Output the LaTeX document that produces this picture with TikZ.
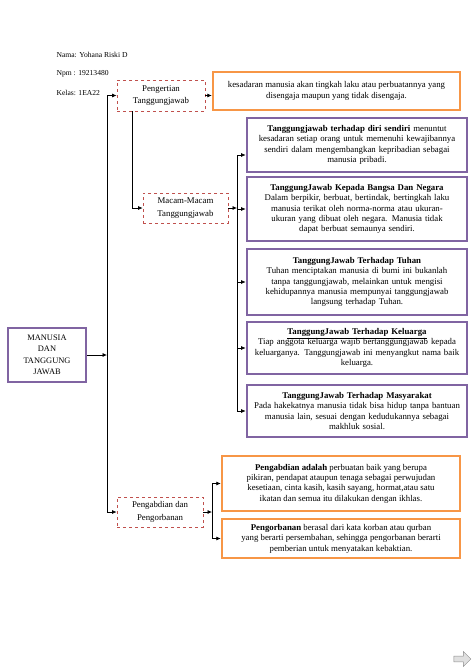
\documentclass[tikz,border=0pt]{standalone}
\usepackage{fontspec}
\setmainfont{Liberation Serif}
\usetikzlibrary{positioning,arrows.meta,shapes.arrows}

\definecolor{ungu}{RGB}{128,100,162}
\definecolor{oranye}{RGB}{247,150,70}
\definecolor{merah}{RGB}{192,80,77}

\begin{document}
\begin{tikzpicture}[x=1pt,y=-1pt,
    every node/.style={font=\fontsize{8.8}{10.4}\selectfont},
    identitas/.style={anchor=west,font=\fontsize{7.6}{9}\selectfont},
    topik/.style={draw=merah,dashed,line width=0.7pt,fill=white,align=center,
                  font=\fontsize{8.8}{12.5}\selectfont},
    isi/.style={draw=ungu,line width=2pt,fill=white,align=center,text width=214},
    jelas/.style={draw=oranye,line width=2.5pt,fill=white,align=center},
    panah/.style={-{Latex[length=4.5pt,width=4pt]},line width=0.7pt},
    garis/.style={line width=0.7pt}]
    \useasboundingbox (0,0) rectangle (476,669);

    % identitas
    \node[identitas] (nama)  at (53,55) {Nama: Yohana Riski D};
    \node[identitas] (npm)   at (53,74) {Npm : 19213480};
    \node[identitas] (kelas) at (53,93) {Kelas: 1EA22};

    % pokok bahasan
    \node[draw=ungu,line width=2pt,minimum width=78,minimum height=54,align=center,
          font=\fontsize{8.4}{11.5}\selectfont] (manusia) at (47,355)
          {MANUSIA\\DAN\\TANGGUNG\\JAWAB};

    \node[topik,minimum width=88,minimum height=31] (pengertian) at (161,95.5)
          {Pengertian\\Tanggungjawab};
    \node[topik,minimum width=85,minimum height=30] (macam) at (185.5,208)
          {Macam-Macam\\Tanggungjawab};
    \node[topik,minimum width=86,minimum height=30] (pengabdian) at (160,512)
          {Pengabdian dan\\Pengorbanan};

    \node[jelas,minimum width=247,minimum height=38] (arti) at (336.5,91)
          {kesadaran manusia akan tingkah laku atau perbuatannya yang\\
           disengaja maupun yang tidak disengaja.};

    % macam-macam tanggungjawab
    \node[isi,minimum height=54] (tj1) at (357,145)
          {\textbf{Tanggungjawab terhadap diri sendiri} menuntut\\
           kesadaran setiap orang untuk memenuhi kewajibannya\\
           sendiri dalam mengembangkan kepribadian sebagai\\
           manusia pribadi.};
    \node[isi,minimum height=64] (tj2) at (357,209)
          {\textbf{TanggungJawab Kepada Bangsa Dan Negara}\\
           Dalam berpikir, berbuat, bertindak, bertingkah laku\\
           manusia terikat oleh norma-norma atau ukuran-\\
           ukuran yang dibuat oleh negara. Manusia tidak\\
           dapat berbuat semaunya sendiri.};
    \node[isi,minimum height=66] (tj3) at (357,282)
          {\textbf{TanggungJawab Terhadap Tuhan}\\
           Tuhan menciptakan manusia di bumi ini bukanlah\\
           tanpa tanggungjawab, melainkan untuk mengisi\\
           kehidupannya manusia mempunyai tanggungjawab\\
           langsung terhadap Tuhan.};
    \node[isi,minimum height=52] (tj4) at (357,348)
          {\underline{\textbf{TanggungJawab Terhadap Keluarga}}\\
           Tiap anggota keluarga wajib bertanggungjawab kepada\\
           keluarganya. Tanggungjawab ini menyangkut nama baik\\
           keluarga.};
    \node[isi,minimum height=52] (tj5) at (357,411)
          {\textbf{TanggungJawab Terhadap Masyarakat}\\
           Pada hakekatnya manusia tidak bisa hidup tanpa bantuan\\
           manusia lain, sesuai dengan kedudukannya sebagai\\
           makhluk sosial.};

    % pengabdian dan pengorbanan
    \node[jelas,minimum width=238,minimum height=55] (abdi) at (341,483.5)
          {\textbf{Pengabdian adalah} perbuatan baik yang berupa\\
           pikiran, pendapat ataupun tenaga sebagai perwujudan\\
           kesetiaan, cinta kasih, kasih sayang, hormat,atau satu\\
           ikatan dan semua itu dilakukan dengan ikhlas.};
    \node[jelas,minimum width=238,minimum height=39] (korban) at (341,538.5)
          {\textbf{Pengorbanan} berasal dari kata korban atau qurban\\
           yang berarti persembahan, sehingga pengorbanan berarti\\
           pemberian untuk menyatakan kebaktian.};

    % titik cabang
    \coordinate (batang) at (107,0);
    \coordinate (cabang) at (237,0);
    \coordinate (ranting) at (212,0);

    % penghubung
    \draw[panah] (manusia.east) -- (manusia.east -| batang);
    \draw[garis] (batang |- pengertian) -- (batang |- pengabdian);
    \draw[panah] (batang |- pengertian) -- (pengertian.west);
    \draw[panah] (batang |- pengabdian) -- (pengabdian.west);
    \draw[panah] (pengertian.east) -- (pengertian.east -| arti.west);
    \draw[panah] ([xshift=-29pt]pengertian.south) |- (macam.west);

    \draw[panah] (macam.east) -- (macam.east -| cabang);
    \draw[garis] ([yshift=-10pt]cabang |- tj1) -- (cabang |- tj5);
    \draw[panah] ([yshift=-10pt]cabang |- tj1) -- ([yshift=-10pt]tj1.west);
    \foreach \i in {2,...,5}
        \draw[panah] (cabang |- tj\i) -- (tj\i.west);

    \draw[panah] (pengabdian.east) -- (pengabdian.east -| ranting);
    \draw[garis] (ranting |- abdi) -- (ranting |- korban);
    \draw[panah] (ranting |- abdi) -- (abdi.west);
    \draw[panah] (ranting |- korban) -- (korban.west);

    % panah halaman
    \node[single arrow,draw=black!45,fill=black!12,minimum width=15,
          single arrow head extend=2pt,minimum height=17,inner sep=1pt] (lanjut) at (461,659) {};
\end{tikzpicture}
\end{document}
